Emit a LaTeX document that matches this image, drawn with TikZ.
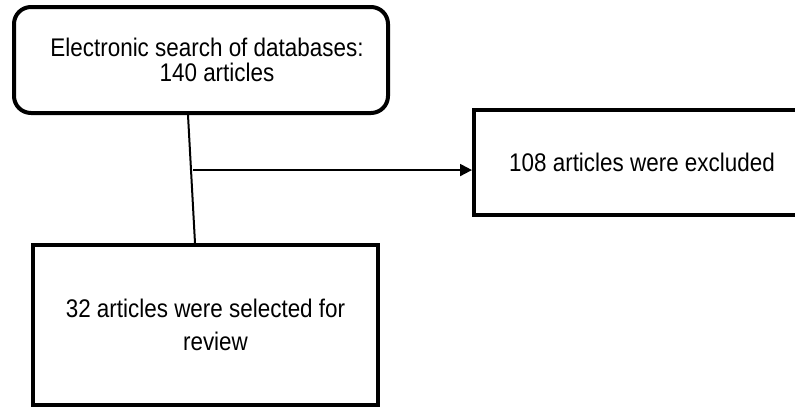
\documentclass[tikz,border=0pt]{standalone}
\usepackage{fontspec}
\setmainfont[FakeStretch=0.88]{Liberation Sans}
\usetikzlibrary{arrows.meta,calc}
\begin{document}
\begin{tikzpicture}[x=1pt,y=-1pt,
  boxstyle/.style={draw=black, line width=4pt, fill=white, align=center, inner sep=0pt,
    font=\fontsize{25.5}{25.5}\selectfont},
  conn/.style={line width=2pt, draw=black},
  arr/.style={conn, -{Triangle[length=12pt,width=12pt]}}]
\useasboundingbox (0,0) rectangle (795,407);
\clip (0,0) rectangle (795,407);
\node[boxstyle, rounded corners=17pt, minimum width=374pt, minimum height=106pt] (src) at (201,60)
  {\hspace*{12pt}Electronic search of databases:\\\hspace*{32pt}140 articles};
\node[boxstyle, minimum width=345pt, minimum height=160pt] (sel) at (205.5,325)
  {32 articles were selected for\\[7pt]\hspace*{20pt}review};
\node[boxstyle, minimum width=336pt, minimum height=105pt] (exc) at (642,162.5)
  {108 articles were excluded};
\coordinate (a) at ([xshift=-13pt]src.south);
\coordinate (b) at ([xshift=-10.5pt]sel.north);
\draw[conn] (a) -- (b);
\coordinate (j) at ($(a)!0.43!(b)+(2,0)$);
\draw[arr] (j) -- (j -| exc.west);
\end{tikzpicture}
\end{document}
